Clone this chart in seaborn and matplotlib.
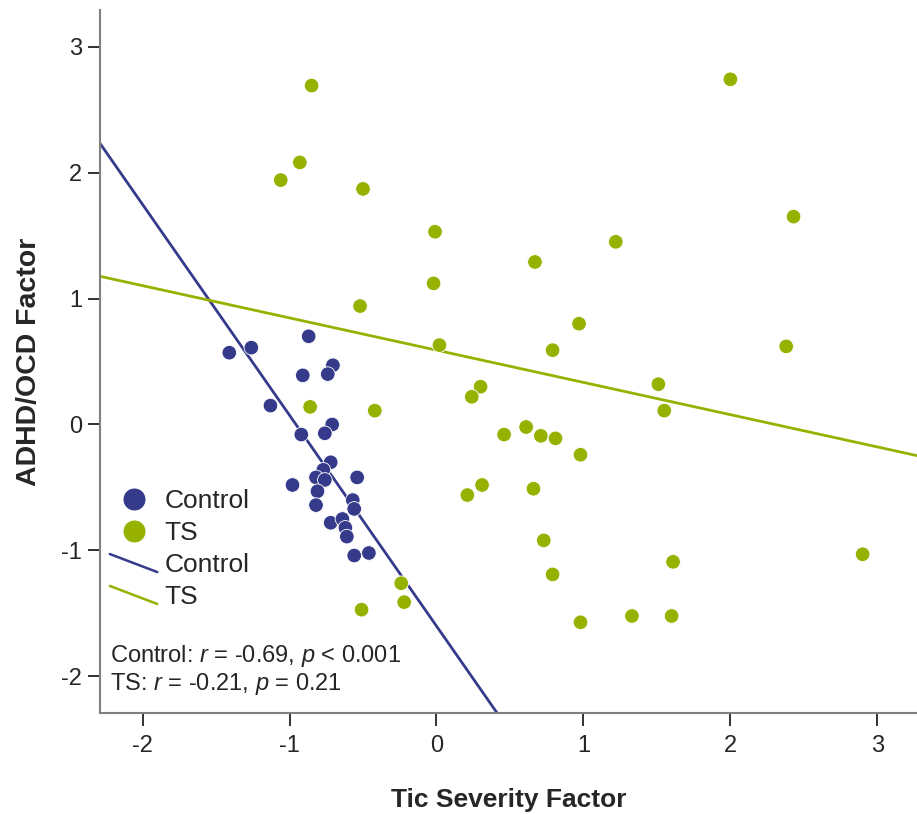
import matplotlib
matplotlib.use("Agg")
import matplotlib.pyplot as plt
from matplotlib.lines import Line2D
from matplotlib.legend_handler import HandlerLine2D
import seaborn as sns
import pandas as pd

# Données
control_x = [-1.41, -1.26, -0.87, -0.91, -0.705, -0.74, -1.13, -0.71, -0.76, -0.92,
             -0.72, -0.77, -0.82, -0.76, -0.54, -0.98, -0.81, -0.57, -0.56, -0.82,
             -0.72, -0.64, -0.62, -0.61, -0.56, -0.46]
control_y = [0.57, 0.61, 0.70, 0.39, 0.47, 0.40, 0.15, 0.00, -0.07, -0.08,
             -0.30, -0.36, -0.42, -0.44, -0.42, -0.48, -0.53, -0.60, -0.67, -0.64,
             -0.78, -0.75, -0.82, -0.89, -1.04, -1.02]

ts_x = [-0.85, -0.93, -1.06, -0.50, -0.01, -0.02, 1.22, 0.67, 0.97, 0.02,
        0.79, 0.30, 0.24, 0.46, 0.61, 0.71, 0.81, 0.98, 1.51, -0.52,
        2.00, 2.43, 2.38, 1.55, 0.66, 0.73, 0.79, 1.61, 0.98, 1.33,
        1.60, 2.90, 0.21, 0.31, -0.86, -0.42, -0.24, -0.22, -0.51]
ts_y = [2.69, 2.08, 1.94, 1.87, 1.53, 1.12, 1.45, 1.29, 0.80, 0.63,
        0.59, 0.30, 0.22, -0.08, -0.02, -0.09, -0.11, -0.24, 0.32, 0.94,
        2.74, 1.65, 0.62, 0.11, -0.51, -0.92, -1.19, -1.09, -1.57, -1.52,
        -1.52, -1.03, -0.56, -0.48, 0.14, 0.11, -1.26, -1.41, -1.47]

groups = ["Control", "TS"]
# droites de régression
fit_intercept = [-1.60, 0.59]
fit_slope = [-1.673, -0.256]
stats_lines = ["Control: $r$ = -0.69, $p$ < 0.001", "TS: $r$ = -0.21, $p$ = 0.21"]
xticks = [-2, -1, 0, 1, 2, 3]
yticks = [-2, -1, 0, 1, 2, 3]

df = pd.DataFrame({
    "tic": control_x + ts_x,
    "adhd": control_y + ts_y,
    "groupe": ["Control"] * len(control_x) + ["TS"] * len(ts_x),
})

couleurs = {"Control": "#353a8b", "TS": "#97b100"}

sns.set_style("ticks")
plt.rcParams["font.family"] = ["Liberation Sans", "DejaVu Sans"]
plt.rcParams["mathtext.fontset"] = "custom"
plt.rcParams["mathtext.rm"] = "Liberation Sans"
plt.rcParams["mathtext.it"] = "Liberation Sans:italic"


# Poignée de légende en diagonale pour les droites
class HandlerDiag(HandlerLine2D):
    def create_artists(self, legend, orig_handle, xdescent, ydescent, width, height, fontsize, trans):
        ligne = Line2D([-xdescent, -xdescent + width], [height / 2 + 6.5, height / 2 - 6.5])
        self.update_prop(ligne, orig_handle, legend)
        ligne.set_transform(trans)
        return [ligne]


fig = plt.figure(figsize=(9.17, 8.15), dpi=100)
ax = fig.add_axes([100 / 917, 1 - 713 / 815, 817 / 917, 703 / 815])
ax.set_xlim(-2.29, 3.27)
ax.set_ylim(-2.29, 3.29)

for i, g in enumerate(groups):
    ax.axline((0, fit_intercept[i]), slope=fit_slope[i], color=couleurs[g], lw=2, zorder=2)

sns.scatterplot(data=df, x="tic", y="adhd", hue="groupe", palette=couleurs, ax=ax,
                s=110, edgecolor="white", linewidth=0.6, legend=False, zorder=3)

ax.set_xlim(-2.29, 3.27)
ax.set_ylim(-2.29, 3.29)
ax.set_xticks(xticks)
ax.set_yticks(yticks)
ax.set_xticklabels([str(t) for t in xticks])
ax.set_yticklabels([str(t) for t in yticks])
ax.tick_params(axis="both", labelsize=17, length=9, width=1.3, color="#222222", pad=4)
ax.tick_params(axis="x", pad=7)

sns.despine(ax=ax)
for s in ["left", "bottom"]:
    ax.spines[s].set_color("#808080")
    ax.spines[s].set_linewidth(1.5)

ax.set_xlabel("Tic Severity Factor", fontsize=19, fontweight="bold", labelpad=22)
ax.set_ylabel("ADHD/OCD Factor", fontsize=20.5, fontweight="bold", labelpad=14)

# Légende
poignees = []
for g in groups:
    poignees.append(Line2D([], [], marker="o", ls="", markersize=16.5,
                           markerfacecolor=couleurs[g], markeredgecolor="white", markeredgewidth=0.6))
lignes = [Line2D([], [], color=couleurs[g], lw=1.8) for g in groups]
leg = ax.legend(poignees + lignes, groups + groups, loc="upper left",
                bbox_to_anchor=(0.012, 0.318), frameon=False, fontsize=19,
                handlelength=1.8, handletextpad=0.27, labelspacing=0.3,
                borderpad=0, borderaxespad=0, handler_map={l: HandlerDiag() for l in lignes})

ax.text(0.012, 0.0725, stats_lines[0], transform=ax.transAxes, fontsize=17, va="baseline")
ax.text(0.012, 0.0327, stats_lines[1], transform=ax.transAxes, fontsize=17, va="baseline")

fig.savefig("out.png", dpi=100)
